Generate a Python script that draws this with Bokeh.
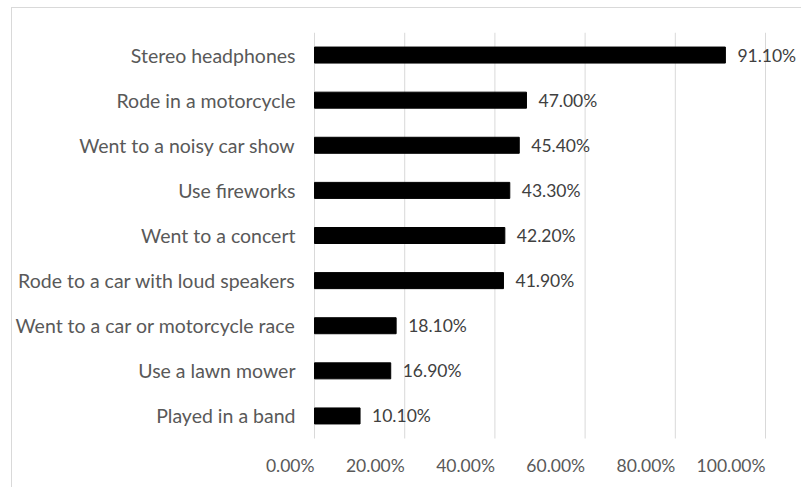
from bokeh.plotting import figure
from bokeh.models import ColumnDataSource, Range1d
from bokeh.core.properties import value
from bokeh.embed import file_html
from bokeh.resources import INLINE

categories = [
    "Stereo headphones",
    "Rode in a motorcycle",
    "Went to a noisy car show",
    "Use fireworks",
    "Went to a concert",
    "Rode to a car with loud speakers",
    "Went to a car or motorcycle race",
    "Use a lawn mower",
    "Played in a band",
]
values = [91.1, 47.0, 45.4, 43.3, 42.2, 41.9, 18.1, 16.9, 10.1]
x_ticks = [0, 20, 40, 60, 80, 100]
x_tick_labels = ["0.00%", "20.00%", "40.00%", "60.00%", "80.00%", "100.00%"]

FONT = "Lato"
TXT = "#595959"

n = len(categories)
y_pos = [n - i - 0.5 for i in range(n)]          # first category on top

src = ColumnDataSource(dict(
    y=y_pos,
    val=values,
    zero=[0] * n,
    cat=categories,
    lab=["%.2f%%" % v for v in values],
))
tick_src = ColumnDataSource(dict(
    x=x_ticks,
    y=[-0.6] * len(x_ticks),
    y0=[0] * len(x_ticks),
    y1=[n] * len(x_ticks),
    lab=x_tick_labels,
))

p = figure(
    width=790, height=480,
    x_range=Range1d(-66.96, 108.2),
    y_range=Range1d(-1.108, n),
    x_axis_location=None, y_axis_location=None,
    output_backend="svg", toolbar_location=None,
    min_border_left=0, min_border_right=0,
    min_border_top=24, min_border_bottom=0,
    styles={"margin-left": "11px", "margin-top": "7px",
            "border-left": "1px solid #d9d9d9", "border-top": "1px solid #d9d9d9"},
)
p.outline_line_color = None
p.xgrid.grid_line_color = None
p.ygrid.grid_line_color = None

# vertical gridlines
p.segment(x0="x", y0="y0", x1="x", y1="y1", source=tick_src,
          line_color="#d9d9d9", line_width=1)

p.hbar(y="y", right="val", left=0, height=0.355, source=src,
       fill_color="black", line_color="black")

# value labels
p.text(x="val", y="y", text="lab", source=src, x_offset=12,
       text_baseline="middle", text_align="left",
       text_font=value(FONT), text_font_size="17.5px", text_color="#404040")

# category labels
p.text(x="zero", y="y", text="cat", source=src, x_offset=-19,
       text_baseline="middle", text_align="right",
       text_font=value(FONT), text_font_size="19.5px", text_color=TXT)

# x tick labels (right-aligned on tick)
p.text(x="x", y="y", text="lab", source=tick_src,
       text_baseline="middle", text_align="right",
       text_font=value(FONT), text_font_size="17.5px", text_color=TXT)

open("out.html", "w").write(file_html(p, INLINE))
